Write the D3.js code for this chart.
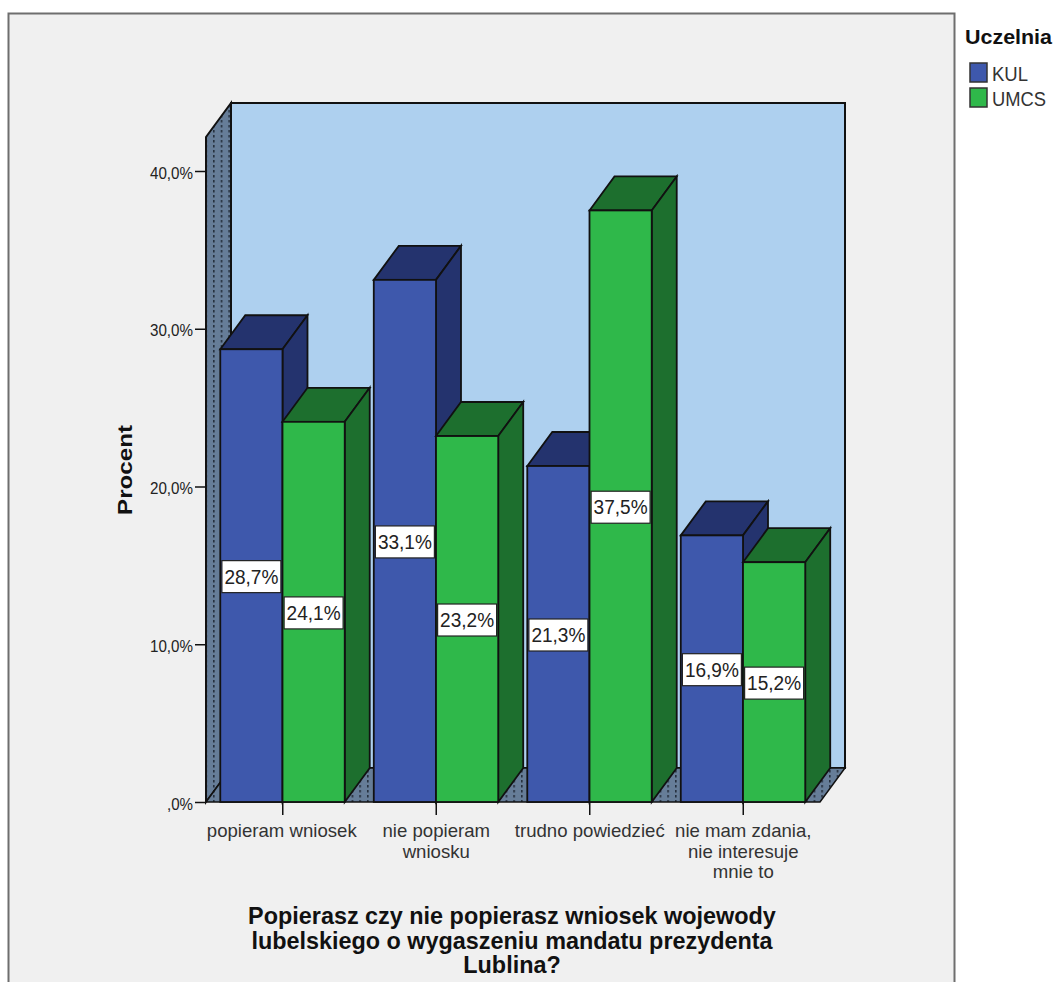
<!DOCTYPE html>
<html>
<head>
<meta charset="utf-8">
<script src="https://cdn.jsdelivr.net/npm/d3@7"></script>
<style>
  html, body { margin: 0; padding: 0; background: #fff; overflow: hidden; }
  svg { display: block; font-family: "Liberation Sans", Arial, sans-serif; }
</style>
</head>
<body>
<div id="chart"></div>
<script>
const categories = ["popieram wniosek", "nie popieram\nwniosku", "trudno powiedzieć", "nie mam zdania,\nnie interesuje\nmnie to"];
const seriesNames = ["KUL", "UMCS"];
const kulValues = [28.7, 33.1, 21.3, 16.9];
const umcsValues = [24.1, 23.2, 37.5, 15.2];
const yTicks = [0, 10, 20, 30, 40];
const titleLines = ["Popierasz czy nie popierasz wniosek wojewody", "lubelskiego o wygaszeniu mandatu prezydenta", "Lublina?"];

const frontColors = { KUL: "#3e58ac", UMCS: "#2fb84a" };
const sideColors = { KUL: "#24336e", UMCS: "#1d6f2e" };

window.onload = function () {

const width = 1056, height = 982;
const depthX = 25, depthY = -34;

const svg = d3.select("#chart").append("svg")
  .attr("width", width)
  .attr("height", height);

// panel
svg.append("rect")
  .attr("x", 8.5).attr("y", 13.5)
  .attr("width", 946).attr("height", 980)
  .attr("fill", "#f0f0f0")
  .attr("stroke", "#6e6e6e")
  .attr("stroke-width", 2);

const defs = svg.append("defs");
const dots = defs.append("pattern")
  .attr("id", "dots")
  .attr("patternUnits", "userSpaceOnUse")
  .attr("x", 213).attr("y", 0)
  .attr("width", 7.7).attr("height", 5);
dots.append("rect").attr("width", 7.7).attr("height", 5).attr("fill", "#667d98");
dots.append("rect").attr("width", 1.6).attr("height", 2.5).attr("fill", "#26303e");

const yScale = d3.scaleLinear().domain([0, 40]).range([802, 171]);

const xScale = d3.scaleBand()
  .domain(categories)
  .range([206, 820])
  .paddingInner(0.186)
  .paddingOuter(0.093);

const barScale = d3.scaleBand()
  .domain(seriesNames)
  .range([0, xScale.bandwidth() - 0.5]);

const x0 = xScale.range()[0], x1 = xScale.range()[1];
const y0 = yScale(0);
const yTop = y0 - 665;

const line = d3.line();
const black = "#111";

// back wall
svg.append("rect")
  .attr("x", x0 + depthX).attr("y", yTop + depthY)
  .attr("width", x1 - x0).attr("height", y0 - yTop)
  .attr("fill", "#aed0ef")
  .attr("stroke", black).attr("stroke-width", 2);

// left wall
svg.append("path")
  .attr("d", line([[x0, y0], [x0, yTop], [x0 + depthX, yTop + depthY], [x0 + depthX, y0 + depthY]]) + "Z")
  .attr("fill", "url(#dots)")
  .attr("stroke", black).attr("stroke-width", 2);

// floor
svg.append("path")
  .attr("d", line([[x0, y0], [x0 + depthX, y0 + depthY], [x1 + depthX, y0 + depthY], [x1, y0]]) + "Z")
  .attr("fill", "url(#dots)")
  .attr("stroke", black).attr("stroke-width", 1.5);

// bars
const rows = categories.flatMap((c, i) => [
  { cat: c, series: "KUL", value: kulValues[i] },
  { cat: c, series: "UMCS", value: umcsValues[i] }
]);

const bars = svg.selectAll("g.bar")
  .data(rows)
  .enter()
  .append("g")
  .attr("class", "bar");

const barW = barScale.bandwidth();
const barX = d => xScale(d.cat) + barScale(d.series);

bars.append("path")
  .attr("d", d => {
    const x = barX(d), y = yScale(d.value);
    return line([[x, y], [x + depthX, y + depthY], [x + barW + depthX, y + depthY], [x + barW, y]]) + "Z";
  })
  .attr("fill", d => sideColors[d.series])
  .attr("stroke", black).attr("stroke-width", 1.8);

bars.append("path")
  .attr("d", d => {
    const x = barX(d) + barW, y = yScale(d.value);
    return line([[x, y], [x + depthX, y + depthY], [x + depthX, y0 + depthY], [x, y0]]) + "Z";
  })
  .attr("fill", d => sideColors[d.series])
  .attr("stroke", black).attr("stroke-width", 1.8);

bars.append("rect")
  .attr("x", barX)
  .attr("y", d => yScale(d.value))
  .attr("width", barW)
  .attr("height", d => y0 - yScale(d.value))
  .attr("fill", d => frontColors[d.series])
  .attr("stroke", black).attr("stroke-width", 1.8);

// value labels, on top of every bar
const labels = svg.selectAll("g.val")
  .data(rows)
  .enter()
  .append("g")
  .attr("class", "val")
  .attr("transform", d => `translate(${barX(d) + barW / 2}, ${(yScale(d.value) + y0) / 2 + 1})`);

labels.append("rect")
  .attr("x", -29.5).attr("y", -16)
  .attr("width", 59).attr("height", 32)
  .attr("fill", "#fff")
  .attr("stroke", "#222").attr("stroke-width", 1.2);

labels.append("text")
  .attr("text-anchor", "middle")
  .attr("dy", "0.35em")
  .style("font-size", "20px")
  .attr("textLength", 54)
  .attr("lengthAdjust", "spacingAndGlyphs")
  .attr("fill", "#222")
  .text(d => d.value.toFixed(1).replace(".", ",") + "%");

// y axis
const yAxis = d3.axisLeft(yScale)
  .tickValues(yTicks)
  .tickSize(11)
  .tickPadding(2)
  .tickFormat(d => d === 0 ? ",0%" : d.toFixed(1).replace(".", ",") + "%");

const yG = svg.append("g")
  .attr("transform", `translate(${x0}, 0)`)
  .call(yAxis);
yG.select(".domain").remove();
yG.selectAll("line").attr("stroke", black).attr("stroke-width", 1.5);
yG.selectAll("text")
  .attr("fill", "#222")
  .attr("dy", "0.42em")
  .attr("lengthAdjust", "spacingAndGlyphs")
  .attr("textLength", d => d === 0 ? 26 : 43)
  .style("font-family", "'Liberation Sans', Arial, sans-serif")
  .style("font-size", "17px");

// x axis
const xAxis = d3.axisBottom(xScale).tickSize(13).tickFormat("");
const xG = svg.append("g")
  .attr("transform", `translate(0, ${y0})`)
  .call(xAxis);
xG.select(".domain").remove();
xG.selectAll("line").attr("stroke", black).attr("stroke-width", 1.5);

const catLabels = svg.selectAll("text.cat")
  .data(categories)
  .enter()
  .append("text")
  .attr("class", "cat")
  .attr("text-anchor", "middle")
  .attr("fill", "#333")
  .style("font-size", "18.6px")
  .attr("transform", d => `translate(${xScale(d) + xScale.bandwidth() / 2 - (d.startsWith("popieram") ? 1 : 0)}, 0)`);

catLabels.selectAll("tspan")
  .data(d => d.split("\n"))
  .enter()
  .append("tspan")
  .attr("x", 0)
  .attr("y", (d, i) => 837 + i * 20.5)
  .text(d => d);

// axis titles
svg.append("text")
  .attr("transform", "translate(132, 470) rotate(-90)")
  .attr("text-anchor", "middle")
  .style("font-size", "20px")
  .style("font-weight", "bold")
  .attr("textLength", 90)
  .attr("lengthAdjust", "spacingAndGlyphs")
  .attr("fill", "#111")
  .text("Procent");

svg.selectAll("text.title")
  .data(titleLines)
  .enter()
  .append("text")
  .attr("class", "title")
  .attr("x", 512)
  .attr("y", (d, i) => 924 + i * 24.5)
  .attr("text-anchor", "middle")
  .style("font-size", "23.4px")
  .style("font-weight", "bold")
  .attr("fill", "#111")
  .text(d => d);

// legend
svg.append("text")
  .attr("x", 965).attr("y", 44)
  .style("font-size", "21px")
  .style("font-weight", "bold")
  .attr("textLength", 87)
  .attr("lengthAdjust", "spacingAndGlyphs")
  .attr("fill", "#111")
  .text("Uczelnia");

const legendY = d3.scaleBand().domain(seriesNames).range([63, 113]);

const legend = svg.selectAll("g.legend")
  .data(seriesNames)
  .enter()
  .append("g")
  .attr("class", "legend")
  .attr("transform", d => `translate(970, ${legendY(d)})`);

legend.append("rect")
  .attr("width", 17).attr("height", 19)
  .attr("fill", d => frontColors[d])
  .attr("stroke", "#333").attr("stroke-width", 1.5);

legend.append("text")
  .attr("x", 22).attr("y", 18)
  .style("font-size", "20px")
  .attr("textLength", d => d === "KUL" ? 36 : 54)
  .attr("lengthAdjust", "spacingAndGlyphs")
  .attr("fill", "#333")
  .text(d => d);

};
</script>
</body>
</html>
